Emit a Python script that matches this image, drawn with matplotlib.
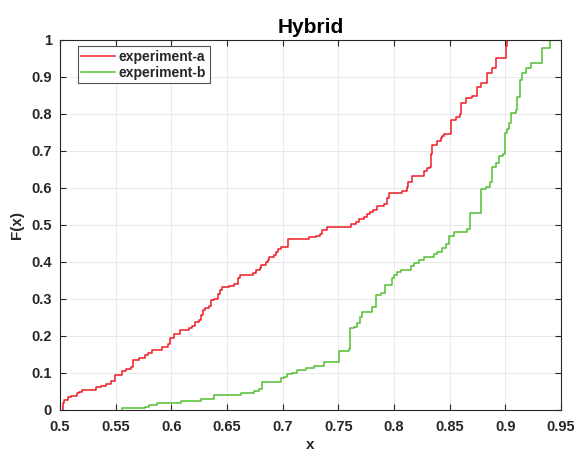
import numpy as np
import matplotlib.pyplot as plt

xa = [0.5024, 0.5039, 0.5069, 0.5100, 0.5150, 0.5170, 0.5200, 0.5320, 0.5368, 0.5410,
      0.5458, 0.5490, 0.5560, 0.5593, 0.5637, 0.5660, 0.5712, 0.5760, 0.5787, 0.5830,
      0.5920, 0.5967, 0.5990, 0.6026, 0.6080, 0.6155, 0.6190, 0.6215, 0.6245, 0.6265,
      0.6285, 0.6300, 0.6335, 0.6355, 0.6380, 0.6420, 0.6440, 0.6460, 0.6520, 0.6560,
      0.6604, 0.6620, 0.6730, 0.6760, 0.6795, 0.6810, 0.6849, 0.6865, 0.6880, 0.6924,
      0.6940, 0.6955, 0.6990, 0.7050, 0.7240, 0.7298, 0.7337, 0.7358, 0.7403, 0.7618,
      0.7657, 0.7687, 0.7732, 0.7756, 0.7786, 0.7810, 0.7846, 0.7911, 0.7935, 0.7956,
      0.8076, 0.8121, 0.8130, 0.8166, 0.8270, 0.8294, 0.8324, 0.8336, 0.8346, 0.8390,
      0.8420, 0.8435, 0.8450, 0.8510, 0.8555, 0.8594, 0.8606, 0.8644, 0.8704, 0.8743,
      0.8785, 0.8833, 0.8884, 0.8914, 0.9010, 0.9019]
Fa = [0.020, 0.027, 0.034, 0.038, 0.045, 0.049, 0.055, 0.061, 0.065, 0.070,
      0.079, 0.095, 0.104, 0.111, 0.117, 0.135, 0.141, 0.148, 0.153, 0.162,
      0.169, 0.177, 0.195, 0.205, 0.216, 0.221, 0.227, 0.238, 0.243, 0.256,
      0.270, 0.275, 0.282, 0.297, 0.300, 0.313, 0.324, 0.331, 0.335, 0.340,
      0.356, 0.366, 0.371, 0.378, 0.383, 0.392, 0.401, 0.405, 0.413, 0.420,
      0.428, 0.434, 0.441, 0.461, 0.467, 0.471, 0.476, 0.487, 0.495, 0.502,
      0.507, 0.515, 0.522, 0.529, 0.536, 0.541, 0.552, 0.558, 0.572, 0.587,
      0.593, 0.602, 0.617, 0.633, 0.647, 0.653, 0.658, 0.693, 0.717, 0.726,
      0.735, 0.740, 0.745, 0.784, 0.793, 0.800, 0.829, 0.843, 0.849, 0.874,
      0.883, 0.910, 0.924, 0.951, 0.983, 1.000]

xb = [0.5554, 0.5763, 0.5802, 0.5871, 0.6086, 0.6266, 0.6380, 0.6625, 0.6744, 0.6789,
      0.6819, 0.6990, 0.7014, 0.7044, 0.7089, 0.7134, 0.7208, 0.7283, 0.7373, 0.7507,
      0.7597, 0.7606, 0.7642, 0.7672, 0.7700, 0.7717, 0.7807, 0.7837, 0.7881, 0.7920,
      0.7980, 0.8001, 0.8031, 0.8061, 0.8151, 0.8181, 0.8225, 0.8270, 0.8360, 0.8390,
      0.8435, 0.8465, 0.8495, 0.8540, 0.8660, 0.8683, 0.8785, 0.8824, 0.8863, 0.8884,
      0.8914, 0.8944, 0.8983, 0.8995, 0.9020, 0.9033, 0.9055, 0.9093, 0.9108, 0.9132,
      0.9153, 0.9183, 0.9228, 0.9333, 0.9401]
Fb = [0.004, 0.007, 0.012, 0.020, 0.025, 0.029, 0.040, 0.047, 0.051, 0.056,
      0.076, 0.085, 0.090, 0.096, 0.101, 0.108, 0.114, 0.119, 0.130, 0.160,
      0.166, 0.221, 0.225, 0.236, 0.250, 0.266, 0.279, 0.311, 0.315, 0.338,
      0.356, 0.365, 0.374, 0.378, 0.389, 0.396, 0.404, 0.414, 0.422, 0.428,
      0.437, 0.449, 0.470, 0.482, 0.488, 0.532, 0.596, 0.602, 0.617, 0.658,
      0.667, 0.686, 0.692, 0.748, 0.760, 0.775, 0.803, 0.810, 0.847, 0.892,
      0.911, 0.923, 0.937, 0.977, 1.000]

labels = ['experiment-a', 'experiment-b']
xticks = [0.5, 0.55, 0.6, 0.65, 0.7, 0.75, 0.8, 0.85, 0.9, 0.95]
yticks = [0, 0.1, 0.2, 0.3, 0.4, 0.5, 0.6, 0.7, 0.8, 0.9, 1]

plt.rcParams['font.family'] = ['Liberation Sans', 'DejaVu Sans']
plt.rcParams['font.weight'] = 'bold'

fig = plt.figure(figsize=(5.74, 4.57), dpi=100)
ax = fig.add_axes([0.1045, 0.103, 0.8725, 0.8095])

tick_col = '#262626'
for xs, fs, col, lab in [(xa, Fa, '#ee1c25', labels[0]), (xb, Fb, '#53be32', labels[1])]:
    # ecdf-style stairs: start at zero at the first sample
    px = np.concatenate([[xs[0]], xs])
    py = np.concatenate([[0.0], fs])
    ax.step(px, py, where='post', color=col, lw=1.1, label=lab)

ax.set_xlim(0.5, 0.95)
ax.set_ylim(0, 1)
ax.set_xticks(xticks)
ax.set_yticks(yticks)
ax.set_xticklabels(['%g' % t for t in xticks])
ax.set_yticklabels(['%g' % t for t in yticks])
ax.tick_params(direction='in', length=4, width=0.8, colors=tick_col, labelsize=10.5,
               top=True, right=True, labeltop=False, labelright=False)
ax.tick_params(axis='x', pad=7)
ax.tick_params(axis='y', pad=6)
for lab in ax.get_xticklabels() + ax.get_yticklabels():
    lab.set_fontweight('bold')
ax.grid(True, color='#e6e6e6', lw=0.6)
ax.set_axisbelow(True)
for s in ax.spines.values():
    s.set_color(tick_col)
    s.set_linewidth(0.8)

ax.set_xlabel('x', fontsize=11, fontweight='bold', color=tick_col, labelpad=3)
ax.set_ylabel('F(x)', fontsize=11, fontweight='bold', color=tick_col, labelpad=5)
ax.set_title('Hybrid', fontsize=15, fontweight='bold', color='black', pad=5)

leg = ax.legend(loc='upper left', bbox_to_anchor=(0.03, 0.99), fontsize=10,
                frameon=True, fancybox=False, borderpad=0.25, labelspacing=0.15,
                handlelength=2.4, handletextpad=0.3, borderaxespad=0.2)
leg.get_frame().set_edgecolor(tick_col)
leg.get_frame().set_linewidth(0.8)
for t in leg.get_texts():
    t.set_fontweight('bold')
    t.set_color(tick_col)

fig.savefig('out.png', dpi=100)
